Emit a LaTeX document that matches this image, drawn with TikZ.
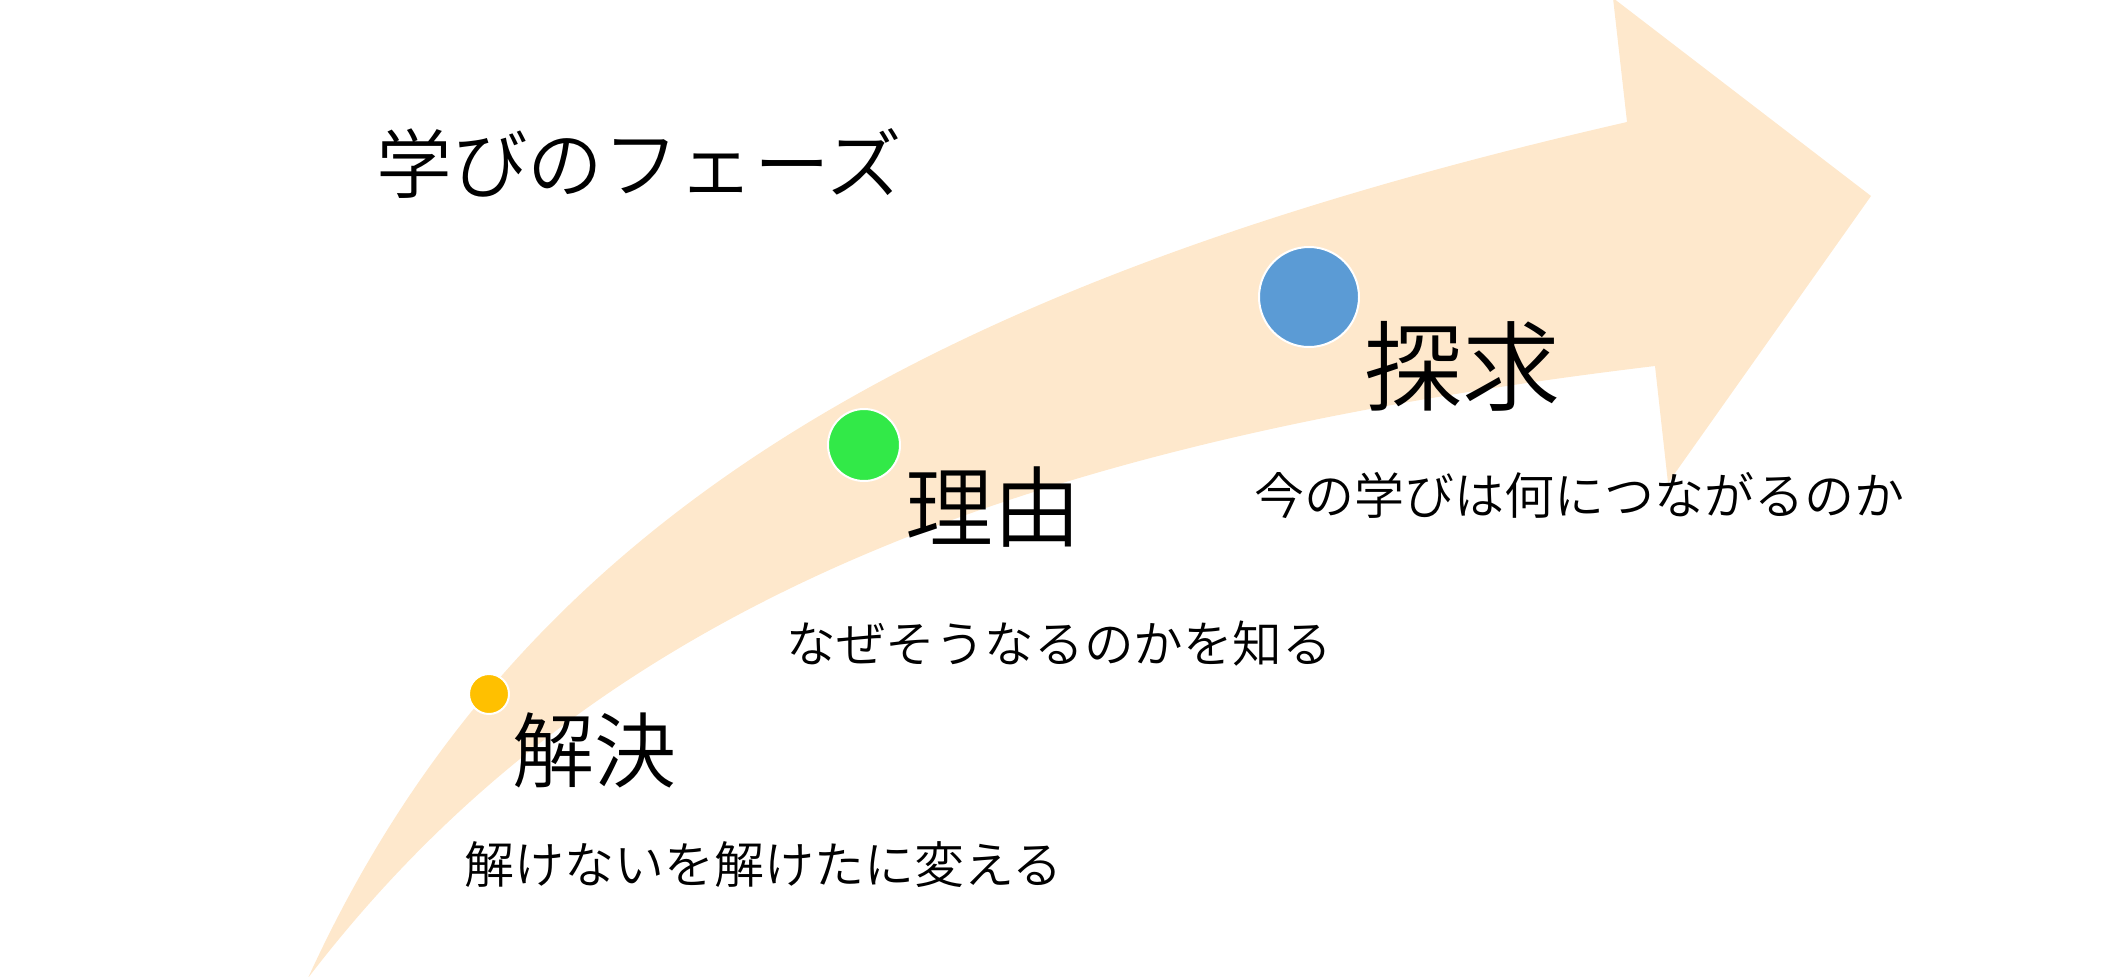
\documentclass[tikz,border=0pt]{standalone}
\usepackage{fontspec}
\IfFontExistsTF{Noto Sans CJK JP DemiLight}{\setmainfont{Noto Sans CJK JP DemiLight}}{\IfFontExistsTF{Noto Sans CJK JP Light}{\setmainfont{Noto Sans CJK JP Light}}{\setmainfont{Noto Sans CJK JP}}}
\definecolor{band}{RGB}{254,232,204}
\definecolor{cyellow}{RGB}{255,192,0}
\definecolor{cgreen}{RGB}{50,233,72}
\definecolor{cblue}{RGB}{91,155,213}
\tikzset{
  dot/.style={circle,draw=white,line width=1pt,inner sep=0pt,minimum size=#1},
  txt/.style={inner sep=0pt,anchor=base west,font=\fontsize{#1}{#1}\selectfont},
}
\begin{document}
\begin{tikzpicture}[x=0.5pt,y=-0.5pt]
\useasboundingbox (0,0) rectangle (2104,976);
\begin{scope}
\clip (0,0) rectangle (2104,976);
\fill[band] (308,978) .. controls (515,525) and (915,285) .. (1627,122)
  -- (1613,-2) -- (1871,196) -- (1668,483) -- (1655,366)
  .. controls (1005,444) and (588,612) .. (308,978) -- cycle;
\end{scope}
\node[dot=20pt,fill=cyellow] (d1) at (489,694) {};
\node[dot=36pt,fill=cgreen] (d2) at (864,445) {};
\node[dot=50pt,fill=cblue] (d3) at (1309,297) {};
\node[txt=37.8pt] (title) at (376,192) {学びのフェーズ};
\node[txt=41pt] (l1) at (512,781) {解決};
\node[txt=44pt] (l2) at (905,540) {理由};
\node[txt=49pt] (l3) at (1364,403) {探求};
\node[txt=25pt] (s1) at (464,883) {解けないを解けたに変える};
\node[txt=24.8pt] (s2) at (786,662) {なぜそうなるのかを知る};
\node[txt=25pt] (s3) at (1254,514) {今の学びは何につながるのか};
\end{tikzpicture}
\end{document}
